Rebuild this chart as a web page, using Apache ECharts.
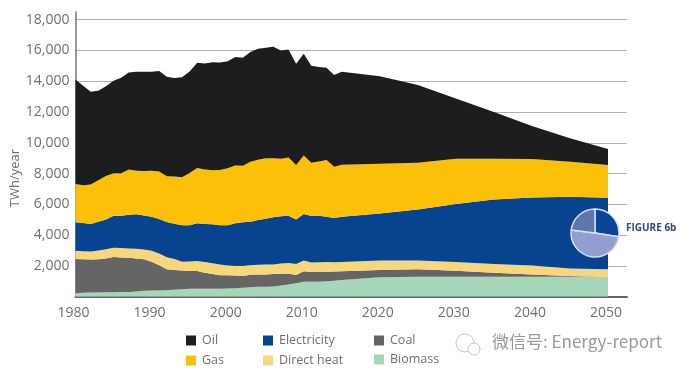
<!DOCTYPE html>
<html><head><meta charset="utf-8">
<script src="https://cdn.jsdelivr.net/npm/echarts@6/dist/echarts.min.js"></script>
<style>html,body{margin:0;padding:0;background:#fff}#c{width:684px;height:373px}</style></head>
<body><div id="c"></div>
<script>
const years=[1980,1981,1982,1983,1984,1985,1986,1987,1988,1989,1990,1991,1992,1993,1994,1995,1996,1997,1998,1999,2000,2001,2002,2003,2004,2005,2006,2007,2008,2009,2010,2011,2012,2013,2014,2015,2020,2025,2030,2035,2040,2045,2050];
// cumulative upper edges (TWh/year)
const oilTop=[14115,13700,13310,13380,13680,14030,14220,14570,14610,14620,14620,14660,14300,14215,14260,14630,15200,15150,15240,15220,15300,15570,15530,15900,16110,16170,16240,16000,16070,15140,15790,15010,14920,14880,14400,14620,14330,13750,12880,12010,11100,10300,9590];
const gasTop=[7318,7250,7290,7570,7850,8020,8020,8260,8190,8170,8190,8130,7830,7810,7760,8040,8370,8260,8210,8230,8340,8530,8510,8770,8900,9000,9000,8970,9050,8550,9180,8700,8790,8880,8440,8570,8640,8700,8960,8960,8940,8770,8550];
const electricityTop=[4830,4790,4720,4870,5020,5260,5260,5330,5350,5280,5200,5050,4850,4740,4640,4650,4770,4730,4700,4650,4640,4770,4830,4870,4980,5070,5170,5220,5260,5020,5370,5240,5260,5200,5110,5200,5410,5670,6020,6320,6450,6500,6430];
const heatTop=[2987,2960,2945,3000,3090,3180,3160,3140,3110,3070,2990,2810,2560,2450,2270,2280,2320,2250,2170,2090,2020,2000,2000,2050,2080,2090,2100,2150,2190,2130,2360,2230,2240,2250,2240,2250,2360,2360,2250,2130,2020,1840,1780];
const coalTop=[2450,2430,2410,2440,2490,2580,2540,2530,2480,2430,2270,2050,1790,1730,1700,1670,1670,1560,1480,1390,1400,1370,1340,1430,1440,1450,1470,1490,1500,1410,1650,1600,1610,1620,1630,1650,1730,1780,1690,1560,1450,1340,1280];
const biomassTop=[230,250,270,280,290,295,300,310,340,380,400,410,420,450,480,510,510,510,510,520,530,550,575,610,640,650,660,720,790,870,970,970,970,1010,1040,1080,1260,1300,1300,1300,1300,1290,1280];
const pieNames=['Dark share','Light share','Mid share'];
const pieValues=[27.5,49.5,23];

const FONT='"Open Sans"', GREY='#6f6f6f';
const yearTime=y=>Date.UTC(y,0,1);
const layers=[
 {name:'Biomass',top:biomassTop,below:null,color:'#a5d6b8'},
 {name:'Coal',top:coalTop,below:biomassTop,color:'#656565'},
 {name:'Direct heat',top:heatTop,below:coalTop,color:'#f7d67c'},
 {name:'Electricity',top:electricityTop,below:heatTop,color:'#07438f'},
 {name:'Gas',top:gasTop,below:electricityTop,color:'#fcc009'},
 {name:'Oil',top:oilTop,below:gasTop,color:'#1d1d1f'}
];
const legendSpots=[['Oil',182,334],['Gas',182,354],['Electricity',259,334],['Direct heat',259,354],['Coal',370,334],['Biomass',370,353]];
const series=layers.map(l=>({
  name:l.name,type:'line',stack:'total',symbol:'none',silent:true,xAxisIndex:0,
  lineStyle:{width:0},itemStyle:{color:l.color},areaStyle:{color:l.color,opacity:1},
  data:years.map((y,i)=>[yearTime(y),l.top[i]-(l.below?l.below[i]:0)])
}));
series.push({type:'pie',name:'Figure 6b',silent:true,z:10,center:[595,233],radius:[0,24],startAngle:90,clockwise:true,
  label:{show:false},labelLine:{show:false},
  itemStyle:{borderColor:'#d3e2f3',borderWidth:1.5},
  data:pieNames.map((n,i)=>({name:n,value:pieValues[i],itemStyle:{color:['#0a4595','#919ecf','#5f76ad'][i]}}))});

const chart=echarts.init(document.getElementById('c'),null,{renderer:'canvas'});
chart.setOption({
  animation:false,backgroundColor:'#fff',
  grid:{left:75.5,right:57,top:12,bottom:76.3},
  xAxis:[
   {type:'time',show:false,min:yearTime(1980),max:Date.UTC(2052,6,1)},
   {type:'value',position:'bottom',min:1980,max:2052.5,interval:10,
    axisLine:{show:true,onZero:false,lineStyle:{color:'#666',width:2}},axisTick:{show:false},splitLine:{show:false},
    axisLabel:{showMaxLabel:false,color:GREY,fontFamily:FONT,fontSize:14,margin:9,padding:[0,4,0,0],formatter:v=>String(v)}}
  ],
  yAxis:{type:'value',min:0,max:18500,interval:2000,
    axisLine:{show:true,lineStyle:{color:'#777',width:1.5}},axisTick:{show:false},
    splitLine:{show:true,showMinLine:false,showMaxLine:false,lineStyle:{color:'#b0b0b0',width:1}},
    axisLabel:{showMinLabel:false,showMaxLabel:false,color:GREY,fontFamily:FONT,fontSize:14,margin:6,padding:[0,0,2,0],
      formatter:v=>v.toLocaleString('en-US')}},
  legend:legendSpots.map(s=>({data:[s[0]],left:s[1],top:s[2],orient:'horizontal',itemWidth:10,itemHeight:10,itemGap:0,
     padding:[0,0,0,4],selectedMode:false,icon:'rect',textStyle:{color:GREY,fontFamily:FONT,fontSize:12.5,padding:[0,0,0,1]}})),
  series,
  graphic:[
   {type:'text',x:15,y:178,rotation:Math.PI/2,style:{text:'TWh/year',fill:GREY,font:'13px "Open Sans"',align:'center',verticalAlign:'middle'}},
   {type:'text',x:626,y:228,style:{text:'FIGURE 6b',fill:'#2f4a7d',font:'bold 10px "Open Sans"',verticalAlign:'middle'}},
   {type:'circle',shape:{cx:465,cy:343,r:9},style:{fill:'none',stroke:'#c4c4c4',lineWidth:1}},
   {type:'circle',shape:{cx:474,cy:349,r:6},style:{fill:'#fff',stroke:'#c4c4c4',lineWidth:1}},
   {type:'text',x:492,y:342,style:{text:'微信号: Energy-report',fill:'#9a9a9a',font:'17px "Noto Sans CJK SC"',verticalAlign:'middle'}}
  ]
});
</script></body></html>
